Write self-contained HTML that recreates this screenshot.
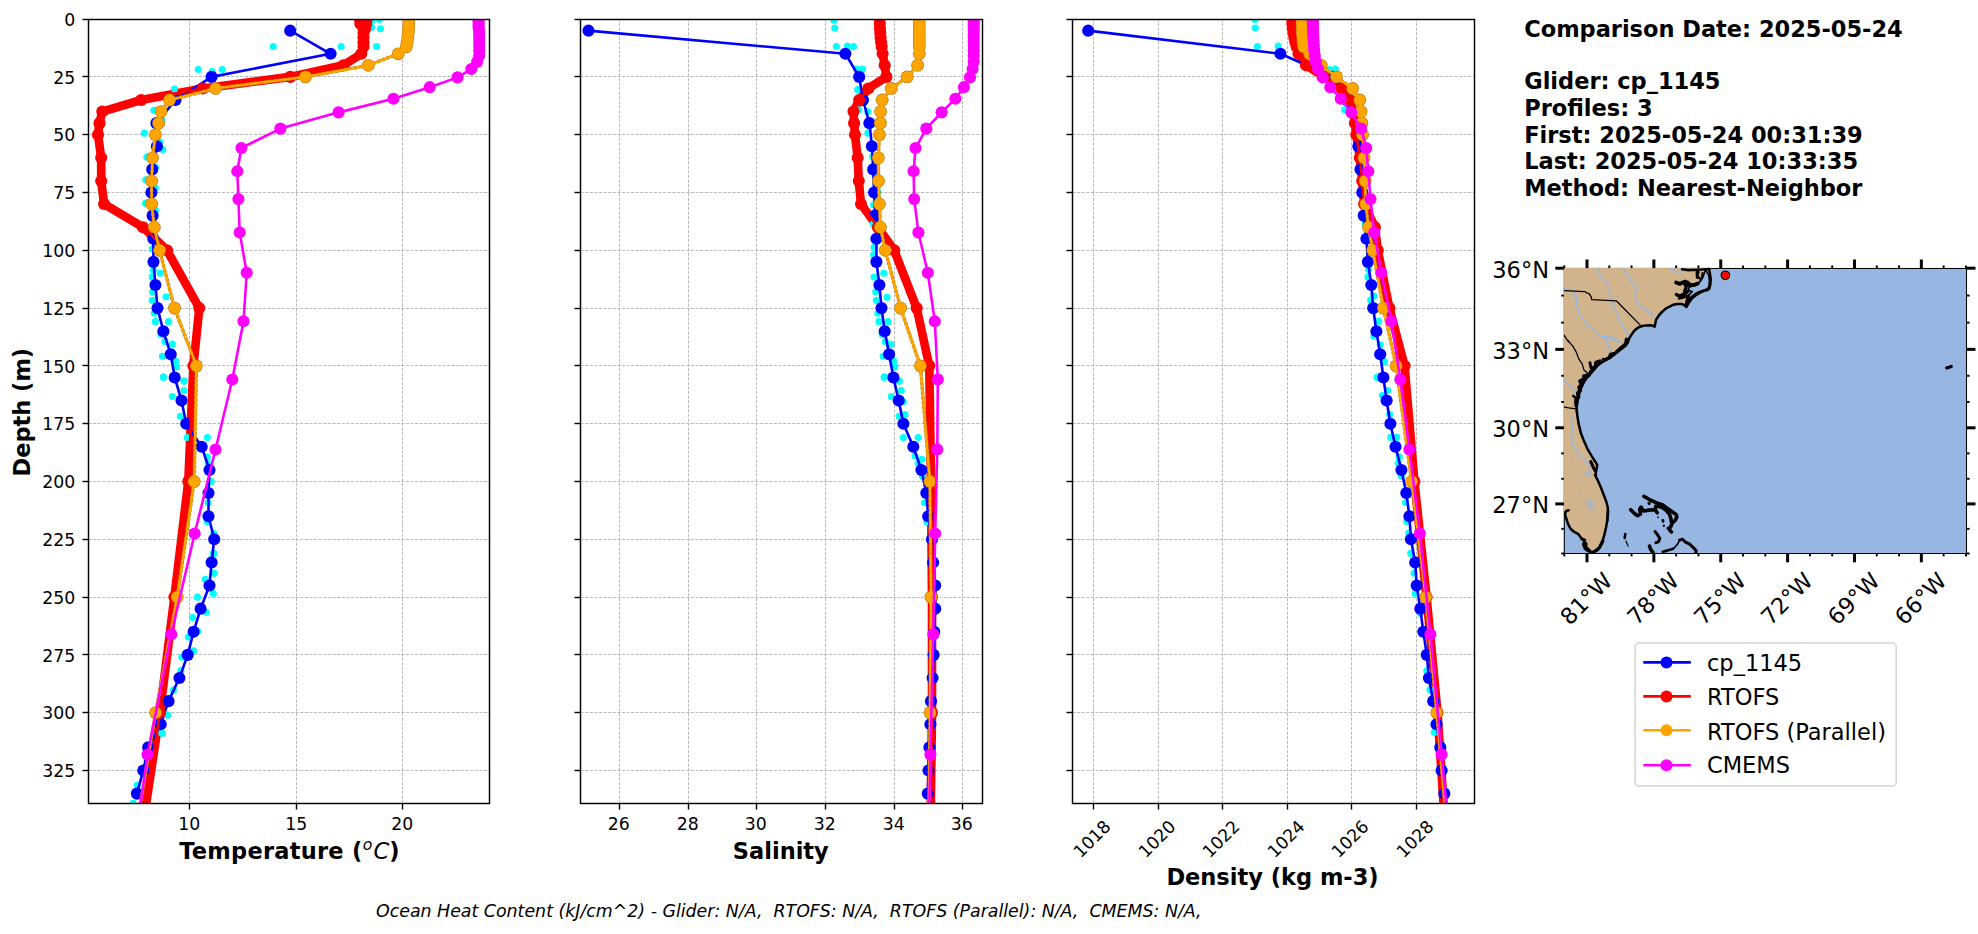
<!DOCTYPE html>
<html lang="en"><head><meta charset="utf-8"><title>Glider vs model profile comparison</title>
<style>html,body{margin:0;padding:0;background:#fff}body{width:1978px;height:934px;overflow:hidden}svg{display:block}text{white-space:pre}</style>
</head><body>
<svg width="1978" height="934" viewBox="0 0 1978 934" font-family="'DejaVu Sans', 'Liberation Sans', sans-serif">
<rect width="1978" height="934" fill="#fff"/>
<defs>
<clipPath id="cp0"><rect x="88.5" y="19.5" width="401" height="784"/></clipPath>
<clipPath id="cp1"><rect x="580.5" y="19.5" width="402" height="784"/></clipPath>
<clipPath id="cp2"><rect x="1072.5" y="19.5" width="402" height="784"/></clipPath>
</defs>
<g stroke="#b0b0b0" stroke-width="0.87" stroke-dasharray="3.2 1.4" fill="none">
<line x1="189.5" y1="803.5" x2="189.5" y2="19.5"/>
<line x1="296.5" y1="803.5" x2="296.5" y2="19.5"/>
<line x1="402.5" y1="803.5" x2="402.5" y2="19.5"/>
<line x1="88.5" y1="76.5" x2="489.5" y2="76.5"/>
<line x1="88.5" y1="134.5" x2="489.5" y2="134.5"/>
<line x1="88.5" y1="192.5" x2="489.5" y2="192.5"/>
<line x1="88.5" y1="250.5" x2="489.5" y2="250.5"/>
<line x1="88.5" y1="308.5" x2="489.5" y2="308.5"/>
<line x1="88.5" y1="365.5" x2="489.5" y2="365.5"/>
<line x1="88.5" y1="423.5" x2="489.5" y2="423.5"/>
<line x1="88.5" y1="481.5" x2="489.5" y2="481.5"/>
<line x1="88.5" y1="539.5" x2="489.5" y2="539.5"/>
<line x1="88.5" y1="597.5" x2="489.5" y2="597.5"/>
<line x1="88.5" y1="654.5" x2="489.5" y2="654.5"/>
<line x1="88.5" y1="712.5" x2="489.5" y2="712.5"/>
<line x1="88.5" y1="770.5" x2="489.5" y2="770.5"/>
</g>
<g clip-path="url(#cp0)">
<polyline points="363.5,19.1 363.5,23.72 363.5,28.35 363.5,32.97 363.5,37.6 363.5,42.22 363.5,46.84 361.3,53.78 343.3,65.34 290.2,76.9 202.7,88.46 141.2,100.02 102.3,111.58 99.5,123.14 98,134.7 101.2,157.82 101.2,180.94 104.1,204.06 143,227.18 167,250.3 199.3,308.1 193.4,365.9 188.3,481.5 174.4,597.1 159.9,712.7 142.4,828.3" fill="none" stroke="#ff0000" stroke-width="8.65" stroke-linejoin="round" />
<g fill="#00ffff" ><circle cx="371.96" cy="20.19" r="3.55"/><circle cx="379.39" cy="19.56" r="3.55"/><circle cx="371.54" cy="27.41" r="3.55"/><circle cx="380.46" cy="28.69" r="3.55"/><circle cx="376.63" cy="46.52" r="3.55"/><circle cx="341.17" cy="46.52" r="3.55"/><circle cx="273.23" cy="46.52" r="3.55"/><circle cx="198.27" cy="69.45" r="3.55"/><circle cx="212.29" cy="71.58" r="3.55"/><circle cx="222.27" cy="69.45" r="3.55"/><circle cx="174.49" cy="88.99" r="3.55"/><circle cx="153.89" cy="110.22" r="3.55"/><circle cx="161.75" cy="119.78" r="3.55"/><circle cx="144.34" cy="133.16" r="3.55"/><circle cx="159.63" cy="142.07" r="3.55"/><circle cx="162.81" cy="149.51" r="3.55"/><circle cx="146.89" cy="157.15" r="3.55"/><circle cx="155.38" cy="167.13" r="3.55"/><circle cx="145.82" cy="179.87" r="3.55"/><circle cx="155.38" cy="187.94" r="3.55"/><circle cx="145.82" cy="203.23" r="3.55"/><circle cx="145.82" cy="203.16" r="3.55"/><circle cx="155.38" cy="210.17" r="3.55"/><circle cx="152.19" cy="249.03" r="3.55"/><circle cx="153.26" cy="270.26" r="3.55"/><circle cx="160.26" cy="273.24" r="3.55"/><circle cx="152.19" cy="277.06" r="3.55"/><circle cx="152.62" cy="291.92" r="3.55"/><circle cx="166" cy="296.81" r="3.55"/><circle cx="152.19" cy="300.42" r="3.55"/><circle cx="154.32" cy="313.16" r="3.55"/><circle cx="155.38" cy="321.65" r="3.55"/><circle cx="168.54" cy="321.65" r="3.55"/><circle cx="160.69" cy="334.39" r="3.55"/><circle cx="164.93" cy="341.4" r="3.55"/><circle cx="172.37" cy="343.94" r="3.55"/><circle cx="162.39" cy="356.26" r="3.55"/><circle cx="175.55" cy="360.93" r="3.55"/><circle cx="176.61" cy="366.88" r="3.55"/><circle cx="163.45" cy="376.86" r="3.55"/><circle cx="184.05" cy="381.1" r="3.55"/><circle cx="163.45" cy="377.43" r="3.55"/><circle cx="184.05" cy="381.04" r="3.55"/><circle cx="184.05" cy="390.6" r="3.55"/><circle cx="172.37" cy="396.54" r="3.55"/><circle cx="180.44" cy="416.29" r="3.55"/><circle cx="187.23" cy="437.52" r="3.55"/><circle cx="207.4" cy="437.52" r="3.55"/><circle cx="207.4" cy="457.06" r="3.55"/><circle cx="208.04" cy="463.43" r="3.55"/><circle cx="211.22" cy="481.48" r="3.55"/><circle cx="208.04" cy="502.71" r="3.55"/><circle cx="207.4" cy="521.82" r="3.55"/><circle cx="213.77" cy="533.5" r="3.55"/><circle cx="213.35" cy="553.25" r="3.55"/><circle cx="214.2" cy="553.61" r="3.55"/><circle cx="214.2" cy="573.36" r="3.55"/><circle cx="205.28" cy="579.3" r="3.55"/><circle cx="213.35" cy="593.53" r="3.55"/><circle cx="197.42" cy="597.14" r="3.55"/><circle cx="206.34" cy="612.21" r="3.55"/><circle cx="192.54" cy="617.52" r="3.55"/><circle cx="197.85" cy="631.32" r="3.55"/><circle cx="188.29" cy="637.06" r="3.55"/><circle cx="193.6" cy="650.86" r="3.55"/><circle cx="181.92" cy="657.23" r="3.55"/><circle cx="180.86" cy="670.61" r="3.55"/><circle cx="173.43" cy="690.14" r="3.55"/><circle cx="167.7" cy="714.99" r="3.55"/><circle cx="161.75" cy="733.03" r="3.55"/><circle cx="167.7" cy="715.29" r="3.55"/><circle cx="162.39" cy="733.55" r="3.55"/><circle cx="137.33" cy="784.93" r="3.55"/><circle cx="133.08" cy="803.41" r="3.55"/></g>
<polyline points="290.2,30.66 330.6,53.78 211.6,76.9 175.5,100.02 156.4,123.14 156.9,146.26 152.2,169.38 151.4,192.5 152.6,215.62 153.3,238.74 153.5,261.86 155.4,284.98 157.5,308.1 163.4,331.22 170.7,354.34 174.7,377.46 181.5,400.58 186.2,423.7 201.7,446.82 209.5,469.94 208.5,493.06 208.5,516.18 214.2,539.3 211.6,562.42 209.5,585.54 200.6,608.66 193.6,631.78 187.7,654.9 179.4,678.02 168.5,701.14 160.7,724.26 148.2,747.38 143.3,770.5 136.9,793.62" fill="none" stroke="#0000ff" stroke-width="2.6" stroke-linejoin="round" />
<g fill="#0000ff" ><circle cx="290.2" cy="30.66" r="6.05"/><circle cx="330.6" cy="53.78" r="6.05"/><circle cx="211.6" cy="76.9" r="6.05"/><circle cx="175.5" cy="100.02" r="6.05"/><circle cx="156.4" cy="123.14" r="6.05"/><circle cx="156.9" cy="146.26" r="6.05"/><circle cx="152.2" cy="169.38" r="6.05"/><circle cx="151.4" cy="192.5" r="6.05"/><circle cx="152.6" cy="215.62" r="6.05"/><circle cx="153.3" cy="238.74" r="6.05"/><circle cx="153.5" cy="261.86" r="6.05"/><circle cx="155.4" cy="284.98" r="6.05"/><circle cx="157.5" cy="308.1" r="6.05"/><circle cx="163.4" cy="331.22" r="6.05"/><circle cx="170.7" cy="354.34" r="6.05"/><circle cx="174.7" cy="377.46" r="6.05"/><circle cx="181.5" cy="400.58" r="6.05"/><circle cx="186.2" cy="423.7" r="6.05"/><circle cx="201.7" cy="446.82" r="6.05"/><circle cx="209.5" cy="469.94" r="6.05"/><circle cx="208.5" cy="493.06" r="6.05"/><circle cx="208.5" cy="516.18" r="6.05"/><circle cx="214.2" cy="539.3" r="6.05"/><circle cx="211.6" cy="562.42" r="6.05"/><circle cx="209.5" cy="585.54" r="6.05"/><circle cx="200.6" cy="608.66" r="6.05"/><circle cx="193.6" cy="631.78" r="6.05"/><circle cx="187.7" cy="654.9" r="6.05"/><circle cx="179.4" cy="678.02" r="6.05"/><circle cx="168.5" cy="701.14" r="6.05"/><circle cx="160.7" cy="724.26" r="6.05"/><circle cx="148.2" cy="747.38" r="6.05"/><circle cx="143.3" cy="770.5" r="6.05"/><circle cx="136.9" cy="793.62" r="6.05"/></g>
<polyline points="363.5,19.1 363.5,23.72 363.5,28.35 363.5,32.97 363.5,37.6 363.5,42.22 363.5,46.84 361.3,53.78 343.3,65.34 290.2,76.9 202.7,88.46 141.2,100.02 102.3,111.58 99.5,123.14 98,134.7 101.2,157.82 101.2,180.94 104.1,204.06 143,227.18 167,250.3 199.3,308.1 193.4,365.9 188.3,481.5 174.4,597.1 159.9,712.7 142.4,828.3" fill="none" stroke="#ff0000" stroke-width="2.6" stroke-linejoin="round" />
<g fill="#ff0000" ><circle cx="363.5" cy="19.1" r="6.05"/><circle cx="363.5" cy="23.72" r="6.05"/><circle cx="363.5" cy="28.35" r="6.05"/><circle cx="363.5" cy="32.97" r="6.05"/><circle cx="363.5" cy="37.6" r="6.05"/><circle cx="363.5" cy="42.22" r="6.05"/><circle cx="363.5" cy="46.84" r="6.05"/><circle cx="361.3" cy="53.78" r="6.05"/><circle cx="343.3" cy="65.34" r="6.05"/><circle cx="290.2" cy="76.9" r="6.05"/><circle cx="202.7" cy="88.46" r="6.05"/><circle cx="141.2" cy="100.02" r="6.05"/><circle cx="102.3" cy="111.58" r="6.05"/><circle cx="99.5" cy="123.14" r="6.05"/><circle cx="98" cy="134.7" r="6.05"/><circle cx="101.2" cy="157.82" r="6.05"/><circle cx="101.2" cy="180.94" r="6.05"/><circle cx="104.1" cy="204.06" r="6.05"/><circle cx="143" cy="227.18" r="6.05"/><circle cx="167" cy="250.3" r="6.05"/><circle cx="199.3" cy="308.1" r="6.05"/><circle cx="193.4" cy="365.9" r="6.05"/><circle cx="188.3" cy="481.5" r="6.05"/><circle cx="174.4" cy="597.1" r="6.05"/><circle cx="159.9" cy="712.7" r="6.05"/><circle cx="142.4" cy="828.3" r="6.05"/><circle cx="366.6" cy="19.1" r="6.05"/><circle cx="366.2" cy="23.72" r="6.05"/><circle cx="365.2" cy="28.35" r="6.05"/><circle cx="359.8" cy="19.1" r="6.05"/><circle cx="360.3" cy="23.72" r="6.05"/></g>
<polyline points="408.9,19.1 408.8,23.72 408.6,28.35 408.3,32.97 407.8,37.6 407.2,42.22 406.3,46.84 398.3,53.78 368.3,65.34 305.5,76.9 215.5,88.46 169.6,100.02 161.1,111.58 158.6,123.14 155.4,134.7 152.6,157.82 151.6,180.94 151.6,204.06 154.3,227.18 159.6,250.3 174.5,308.1 196.4,365.9 194.2,481.5 177.2,597.1 155.6,712.7 136.3,828.3" fill="none" stroke="#bd8010" stroke-width="3.4" stroke-linejoin="round" stroke-dasharray="3.8 1"/>
<g fill="#b87a12" ><circle cx="408.9" cy="19.1" r="6.4"/><circle cx="408.8" cy="23.72" r="6.4"/><circle cx="408.6" cy="28.35" r="6.4"/><circle cx="408.3" cy="32.97" r="6.4"/><circle cx="407.8" cy="37.6" r="6.4"/><circle cx="407.2" cy="42.22" r="6.4"/><circle cx="406.3" cy="46.84" r="6.4"/><circle cx="398.3" cy="53.78" r="6.4"/><circle cx="368.3" cy="65.34" r="6.4"/><circle cx="305.5" cy="76.9" r="6.4"/><circle cx="215.5" cy="88.46" r="6.4"/><circle cx="169.6" cy="100.02" r="6.4"/><circle cx="161.1" cy="111.58" r="6.4"/><circle cx="158.6" cy="123.14" r="6.4"/><circle cx="155.4" cy="134.7" r="6.4"/><circle cx="152.6" cy="157.82" r="6.4"/><circle cx="151.6" cy="180.94" r="6.4"/><circle cx="151.6" cy="204.06" r="6.4"/><circle cx="154.3" cy="227.18" r="6.4"/><circle cx="159.6" cy="250.3" r="6.4"/><circle cx="174.5" cy="308.1" r="6.4"/><circle cx="196.4" cy="365.9" r="6.4"/><circle cx="194.2" cy="481.5" r="6.4"/><circle cx="177.2" cy="597.1" r="6.4"/><circle cx="155.6" cy="712.7" r="6.4"/><circle cx="136.3" cy="828.3" r="6.4"/></g>
<polyline points="408.9,19.1 408.8,23.72 408.6,28.35 408.3,32.97 407.8,37.6 407.2,42.22 406.3,46.84 398.3,53.78 368.3,65.34 305.5,76.9 215.5,88.46 169.6,100.02 161.1,111.58 158.6,123.14 155.4,134.7 152.6,157.82 151.6,180.94 151.6,204.06 154.3,227.18 159.6,250.3 174.5,308.1 196.4,365.9 194.2,481.5 177.2,597.1 155.6,712.7 136.3,828.3" fill="none" stroke="#ffa500" stroke-width="2.3" stroke-linejoin="round" />
<g fill="#ffa500" ><circle cx="408.9" cy="19.1" r="5.75"/><circle cx="408.8" cy="23.72" r="5.75"/><circle cx="408.6" cy="28.35" r="5.75"/><circle cx="408.3" cy="32.97" r="5.75"/><circle cx="407.8" cy="37.6" r="5.75"/><circle cx="407.2" cy="42.22" r="5.75"/><circle cx="406.3" cy="46.84" r="5.75"/><circle cx="398.3" cy="53.78" r="5.75"/><circle cx="368.3" cy="65.34" r="5.75"/><circle cx="305.5" cy="76.9" r="5.75"/><circle cx="215.5" cy="88.46" r="5.75"/><circle cx="169.6" cy="100.02" r="5.75"/><circle cx="161.1" cy="111.58" r="5.75"/><circle cx="158.6" cy="123.14" r="5.75"/><circle cx="155.4" cy="134.7" r="5.75"/><circle cx="152.6" cy="157.82" r="5.75"/><circle cx="151.6" cy="180.94" r="5.75"/><circle cx="151.6" cy="204.06" r="5.75"/><circle cx="154.3" cy="227.18" r="5.75"/><circle cx="159.6" cy="250.3" r="5.75"/><circle cx="174.5" cy="308.1" r="5.75"/><circle cx="196.4" cy="365.9" r="5.75"/><circle cx="194.2" cy="481.5" r="5.75"/><circle cx="177.2" cy="597.1" r="5.75"/><circle cx="155.6" cy="712.7" r="5.75"/><circle cx="136.3" cy="828.3" r="5.75"/></g>
<polyline points="478.6,20.23 478.6,22.66 478.6,25.23 478.6,27.93 479.2,30.84 479.2,33.99 479.2,37.43 479.2,41.23 479.2,45.46 479.2,50.24 479.2,55.65 477.1,61.87 471.3,69.04 457.5,77.39 429.7,87.17 393.4,98.7 338.6,112.37 280.4,128.62 241.4,148.02 237.3,171.25 238.4,199.09 239.7,232.54 246.7,272.8 243.5,321.21 232.3,379.43 215.5,449.43 194.7,533.47 171.3,634.18 147.5,754.62 127.3,898.12" fill="none" stroke="#ff00ff" stroke-width="2.6" stroke-linejoin="round" />
<g fill="#ff00ff" ><circle cx="478.6" cy="20.23" r="6.05"/><circle cx="478.6" cy="22.66" r="6.05"/><circle cx="478.6" cy="25.23" r="6.05"/><circle cx="478.6" cy="27.93" r="6.05"/><circle cx="479.2" cy="30.84" r="6.05"/><circle cx="479.2" cy="33.99" r="6.05"/><circle cx="479.2" cy="37.43" r="6.05"/><circle cx="479.2" cy="41.23" r="6.05"/><circle cx="479.2" cy="45.46" r="6.05"/><circle cx="479.2" cy="50.24" r="6.05"/><circle cx="479.2" cy="55.65" r="6.05"/><circle cx="477.1" cy="61.87" r="6.05"/><circle cx="471.3" cy="69.04" r="6.05"/><circle cx="457.5" cy="77.39" r="6.05"/><circle cx="429.7" cy="87.17" r="6.05"/><circle cx="393.4" cy="98.7" r="6.05"/><circle cx="338.6" cy="112.37" r="6.05"/><circle cx="280.4" cy="128.62" r="6.05"/><circle cx="241.4" cy="148.02" r="6.05"/><circle cx="237.3" cy="171.25" r="6.05"/><circle cx="238.4" cy="199.09" r="6.05"/><circle cx="239.7" cy="232.54" r="6.05"/><circle cx="246.7" cy="272.8" r="6.05"/><circle cx="243.5" cy="321.21" r="6.05"/><circle cx="232.3" cy="379.43" r="6.05"/><circle cx="215.5" cy="449.43" r="6.05"/><circle cx="194.7" cy="533.47" r="6.05"/><circle cx="171.3" cy="634.18" r="6.05"/><circle cx="147.5" cy="754.62" r="6.05"/><circle cx="127.3" cy="898.12" r="6.05"/></g>
</g>
<rect x="88.5" y="19.5" width="401" height="784" fill="none" stroke="#000" stroke-width="1.45"/>
<g stroke="#000" stroke-width="1.4">
<line x1="189.5" y1="803.5" x2="189.5" y2="809.55"/>
<line x1="296.5" y1="803.5" x2="296.5" y2="809.55"/>
<line x1="402.5" y1="803.5" x2="402.5" y2="809.55"/>
<line x1="88.5" y1="19.5" x2="82.45" y2="19.5"/>
<line x1="88.5" y1="76.5" x2="82.45" y2="76.5"/>
<line x1="88.5" y1="134.5" x2="82.45" y2="134.5"/>
<line x1="88.5" y1="192.5" x2="82.45" y2="192.5"/>
<line x1="88.5" y1="250.5" x2="82.45" y2="250.5"/>
<line x1="88.5" y1="308.5" x2="82.45" y2="308.5"/>
<line x1="88.5" y1="365.5" x2="82.45" y2="365.5"/>
<line x1="88.5" y1="423.5" x2="82.45" y2="423.5"/>
<line x1="88.5" y1="481.5" x2="82.45" y2="481.5"/>
<line x1="88.5" y1="539.5" x2="82.45" y2="539.5"/>
<line x1="88.5" y1="597.5" x2="82.45" y2="597.5"/>
<line x1="88.5" y1="654.5" x2="82.45" y2="654.5"/>
<line x1="88.5" y1="712.5" x2="82.45" y2="712.5"/>
<line x1="88.5" y1="770.5" x2="82.45" y2="770.5"/>
</g>
<g font-size="17.3" text-anchor="middle">
<text x="189.3" y="830">10</text>
<text x="296.3" y="830">15</text>
<text x="402.3" y="830">20</text>
</g>
<g font-size="17.3" text-anchor="end">
<text x="75.3" y="25.7">0</text>
<text x="75.3" y="83.5">25</text>
<text x="75.3" y="141.3">50</text>
<text x="75.3" y="199.1">75</text>
<text x="75.3" y="256.9">100</text>
<text x="75.3" y="314.7">125</text>
<text x="75.3" y="372.5">150</text>
<text x="75.3" y="430.3">175</text>
<text x="75.3" y="488.1">200</text>
<text x="75.3" y="545.9">225</text>
<text x="75.3" y="603.7">250</text>
<text x="75.3" y="661.5">275</text>
<text x="75.3" y="719.3">300</text>
<text x="75.3" y="777.1">325</text>
</g>
<g stroke="#b0b0b0" stroke-width="0.87" stroke-dasharray="3.2 1.4" fill="none">
<line x1="619.5" y1="803.5" x2="619.5" y2="19.5"/>
<line x1="688.5" y1="803.5" x2="688.5" y2="19.5"/>
<line x1="756.5" y1="803.5" x2="756.5" y2="19.5"/>
<line x1="825.5" y1="803.5" x2="825.5" y2="19.5"/>
<line x1="894.5" y1="803.5" x2="894.5" y2="19.5"/>
<line x1="962.5" y1="803.5" x2="962.5" y2="19.5"/>
<line x1="580.5" y1="76.5" x2="982.5" y2="76.5"/>
<line x1="580.5" y1="134.5" x2="982.5" y2="134.5"/>
<line x1="580.5" y1="192.5" x2="982.5" y2="192.5"/>
<line x1="580.5" y1="250.5" x2="982.5" y2="250.5"/>
<line x1="580.5" y1="308.5" x2="982.5" y2="308.5"/>
<line x1="580.5" y1="365.5" x2="982.5" y2="365.5"/>
<line x1="580.5" y1="423.5" x2="982.5" y2="423.5"/>
<line x1="580.5" y1="481.5" x2="982.5" y2="481.5"/>
<line x1="580.5" y1="539.5" x2="982.5" y2="539.5"/>
<line x1="580.5" y1="597.5" x2="982.5" y2="597.5"/>
<line x1="580.5" y1="654.5" x2="982.5" y2="654.5"/>
<line x1="580.5" y1="712.5" x2="982.5" y2="712.5"/>
<line x1="580.5" y1="770.5" x2="982.5" y2="770.5"/>
</g>
<g clip-path="url(#cp1)">
<polyline points="879.6,19.1 879.8,23.72 880,28.35 880.3,32.97 880.6,37.6 881.1,42.22 881.7,46.84 882.6,53.78 884.7,65.34 886.4,76.9 868.3,88.46 859.2,100.02 853.5,111.58 854.1,123.14 855,134.7 857.7,157.82 858.8,180.94 861,204.06 877.9,227.18 894.2,250.3 916.7,308.1 929.3,365.9 931,481.5 932,597.1 932,712.7 930.5,828.3" fill="none" stroke="#ff0000" stroke-width="8.65" stroke-linejoin="round" />
<g fill="#00ffff" ><circle cx="833.93" cy="20.19" r="3.55"/><circle cx="834.78" cy="28.05" r="3.55"/><circle cx="836.48" cy="46.52" r="3.55"/><circle cx="847.52" cy="46.1" r="3.55"/><circle cx="853.47" cy="46.52" r="3.55"/><circle cx="856.65" cy="69.03" r="3.55"/><circle cx="862.6" cy="69.03" r="3.55"/><circle cx="857.72" cy="89.63" r="3.55"/><circle cx="858.78" cy="109.8" r="3.55"/><circle cx="867.7" cy="111.5" r="3.55"/><circle cx="867.91" cy="133.16" r="3.55"/><circle cx="872.58" cy="156.51" r="3.55"/><circle cx="877.89" cy="192.18" r="3.55"/><circle cx="873.64" cy="204.86" r="3.55"/><circle cx="873.22" cy="223.97" r="3.55"/><circle cx="874.07" cy="247.33" r="3.55"/><circle cx="873.64" cy="254.76" r="3.55"/><circle cx="883.83" cy="273.24" r="3.55"/><circle cx="874.07" cy="277.06" r="3.55"/><circle cx="875.76" cy="291.92" r="3.55"/><circle cx="887.02" cy="297.23" r="3.55"/><circle cx="876.4" cy="300.42" r="3.55"/><circle cx="877.89" cy="313.16" r="3.55"/><circle cx="878.95" cy="321.65" r="3.55"/><circle cx="888.08" cy="321.65" r="3.55"/><circle cx="882.14" cy="334.39" r="3.55"/><circle cx="885.32" cy="341.4" r="3.55"/><circle cx="891.05" cy="344.37" r="3.55"/><circle cx="883.2" cy="356.26" r="3.55"/><circle cx="893.81" cy="360.93" r="3.55"/><circle cx="894.88" cy="366.88" r="3.55"/><circle cx="884.26" cy="376.86" r="3.55"/><circle cx="899.12" cy="381.1" r="3.55"/><circle cx="884.26" cy="377.43" r="3.55"/><circle cx="899.12" cy="381.04" r="3.55"/><circle cx="901.25" cy="390.6" r="3.55"/><circle cx="891.27" cy="396.54" r="3.55"/><circle cx="903.37" cy="401.85" r="3.55"/><circle cx="905.07" cy="414.59" r="3.55"/><circle cx="899.12" cy="416.29" r="3.55"/><circle cx="903.37" cy="437.52" r="3.55"/><circle cx="918.23" cy="437.52" r="3.55"/><circle cx="915.05" cy="456" r="3.55"/><circle cx="922.05" cy="459.18" r="3.55"/><circle cx="918.23" cy="463.43" r="3.55"/><circle cx="922.48" cy="476.17" r="3.55"/><circle cx="924.6" cy="502.71" r="3.55"/><circle cx="926.73" cy="521.82" r="3.55"/></g>
<polyline points="588.5,30.66 845.4,53.78 859.2,76.9 863,100.02 869.4,123.14 871.9,146.26 873.2,169.38 874.1,192.5 875.1,215.62 876.4,238.74 876.4,261.86 879.4,284.98 881.5,308.1 884.7,331.22 889.1,354.34 893.4,377.46 898.7,400.58 903.4,423.7 913.3,446.82 921.4,469.94 926.3,493.06 928.2,516.18 932,539.3 933.1,562.42 935.2,585.54 935.2,608.66 934.2,631.78 933.6,654.9 932.6,678.02 931,701.14 930.4,724.26 929.4,747.38 928.5,770.5 927.8,793.62" fill="none" stroke="#0000ff" stroke-width="2.6" stroke-linejoin="round" />
<g fill="#0000ff" ><circle cx="588.5" cy="30.66" r="6.05"/><circle cx="845.4" cy="53.78" r="6.05"/><circle cx="859.2" cy="76.9" r="6.05"/><circle cx="863" cy="100.02" r="6.05"/><circle cx="869.4" cy="123.14" r="6.05"/><circle cx="871.9" cy="146.26" r="6.05"/><circle cx="873.2" cy="169.38" r="6.05"/><circle cx="874.1" cy="192.5" r="6.05"/><circle cx="875.1" cy="215.62" r="6.05"/><circle cx="876.4" cy="238.74" r="6.05"/><circle cx="876.4" cy="261.86" r="6.05"/><circle cx="879.4" cy="284.98" r="6.05"/><circle cx="881.5" cy="308.1" r="6.05"/><circle cx="884.7" cy="331.22" r="6.05"/><circle cx="889.1" cy="354.34" r="6.05"/><circle cx="893.4" cy="377.46" r="6.05"/><circle cx="898.7" cy="400.58" r="6.05"/><circle cx="903.4" cy="423.7" r="6.05"/><circle cx="913.3" cy="446.82" r="6.05"/><circle cx="921.4" cy="469.94" r="6.05"/><circle cx="926.3" cy="493.06" r="6.05"/><circle cx="928.2" cy="516.18" r="6.05"/><circle cx="932" cy="539.3" r="6.05"/><circle cx="933.1" cy="562.42" r="6.05"/><circle cx="935.2" cy="585.54" r="6.05"/><circle cx="935.2" cy="608.66" r="6.05"/><circle cx="934.2" cy="631.78" r="6.05"/><circle cx="933.6" cy="654.9" r="6.05"/><circle cx="932.6" cy="678.02" r="6.05"/><circle cx="931" cy="701.14" r="6.05"/><circle cx="930.4" cy="724.26" r="6.05"/><circle cx="929.4" cy="747.38" r="6.05"/><circle cx="928.5" cy="770.5" r="6.05"/><circle cx="927.8" cy="793.62" r="6.05"/></g>
<polyline points="879.6,19.1 879.8,23.72 880,28.35 880.3,32.97 880.6,37.6 881.1,42.22 881.7,46.84 882.6,53.78 884.7,65.34 886.4,76.9 868.3,88.46 859.2,100.02 853.5,111.58 854.1,123.14 855,134.7 857.7,157.82 858.8,180.94 861,204.06 877.9,227.18 894.2,250.3 916.7,308.1 929.3,365.9 931,481.5 932,597.1 932,712.7 930.5,828.3" fill="none" stroke="#ff0000" stroke-width="2.6" stroke-linejoin="round" />
<g fill="#ff0000" ><circle cx="879.6" cy="19.1" r="6.05"/><circle cx="879.8" cy="23.72" r="6.05"/><circle cx="880" cy="28.35" r="6.05"/><circle cx="880.3" cy="32.97" r="6.05"/><circle cx="880.6" cy="37.6" r="6.05"/><circle cx="881.1" cy="42.22" r="6.05"/><circle cx="881.7" cy="46.84" r="6.05"/><circle cx="882.6" cy="53.78" r="6.05"/><circle cx="884.7" cy="65.34" r="6.05"/><circle cx="886.4" cy="76.9" r="6.05"/><circle cx="868.3" cy="88.46" r="6.05"/><circle cx="859.2" cy="100.02" r="6.05"/><circle cx="853.5" cy="111.58" r="6.05"/><circle cx="854.1" cy="123.14" r="6.05"/><circle cx="855" cy="134.7" r="6.05"/><circle cx="857.7" cy="157.82" r="6.05"/><circle cx="858.8" cy="180.94" r="6.05"/><circle cx="861" cy="204.06" r="6.05"/><circle cx="877.9" cy="227.18" r="6.05"/><circle cx="894.2" cy="250.3" r="6.05"/><circle cx="916.7" cy="308.1" r="6.05"/><circle cx="929.3" cy="365.9" r="6.05"/><circle cx="931" cy="481.5" r="6.05"/><circle cx="932" cy="597.1" r="6.05"/><circle cx="932" cy="712.7" r="6.05"/><circle cx="930.5" cy="828.3" r="6.05"/></g>
<polyline points="919.3,19.1 919.3,23.72 919.3,28.35 919.3,32.97 919.3,37.6 919.3,42.22 919.3,46.84 919.3,53.78 917.6,65.34 907.2,76.9 891.3,88.46 882.1,100.02 880.6,111.58 880.4,123.14 879.4,134.7 878.3,157.82 878.5,180.94 879.4,204.06 880.4,227.18 885.3,250.3 900.6,308.1 920.4,365.9 929.9,481.5 931,597.1 930.1,712.7 928.5,828.3" fill="none" stroke="#bd8010" stroke-width="3.4" stroke-linejoin="round" stroke-dasharray="3.8 1"/>
<g fill="#b87a12" ><circle cx="919.3" cy="19.1" r="6.4"/><circle cx="919.3" cy="23.72" r="6.4"/><circle cx="919.3" cy="28.35" r="6.4"/><circle cx="919.3" cy="32.97" r="6.4"/><circle cx="919.3" cy="37.6" r="6.4"/><circle cx="919.3" cy="42.22" r="6.4"/><circle cx="919.3" cy="46.84" r="6.4"/><circle cx="919.3" cy="53.78" r="6.4"/><circle cx="917.6" cy="65.34" r="6.4"/><circle cx="907.2" cy="76.9" r="6.4"/><circle cx="891.3" cy="88.46" r="6.4"/><circle cx="882.1" cy="100.02" r="6.4"/><circle cx="880.6" cy="111.58" r="6.4"/><circle cx="880.4" cy="123.14" r="6.4"/><circle cx="879.4" cy="134.7" r="6.4"/><circle cx="878.3" cy="157.82" r="6.4"/><circle cx="878.5" cy="180.94" r="6.4"/><circle cx="879.4" cy="204.06" r="6.4"/><circle cx="880.4" cy="227.18" r="6.4"/><circle cx="885.3" cy="250.3" r="6.4"/><circle cx="900.6" cy="308.1" r="6.4"/><circle cx="920.4" cy="365.9" r="6.4"/><circle cx="929.9" cy="481.5" r="6.4"/><circle cx="931" cy="597.1" r="6.4"/><circle cx="930.1" cy="712.7" r="6.4"/><circle cx="928.5" cy="828.3" r="6.4"/></g>
<polyline points="919.3,19.1 919.3,23.72 919.3,28.35 919.3,32.97 919.3,37.6 919.3,42.22 919.3,46.84 919.3,53.78 917.6,65.34 907.2,76.9 891.3,88.46 882.1,100.02 880.6,111.58 880.4,123.14 879.4,134.7 878.3,157.82 878.5,180.94 879.4,204.06 880.4,227.18 885.3,250.3 900.6,308.1 920.4,365.9 929.9,481.5 931,597.1 930.1,712.7 928.5,828.3" fill="none" stroke="#ffa500" stroke-width="2.3" stroke-linejoin="round" />
<g fill="#ffa500" ><circle cx="919.3" cy="19.1" r="5.75"/><circle cx="919.3" cy="23.72" r="5.75"/><circle cx="919.3" cy="28.35" r="5.75"/><circle cx="919.3" cy="32.97" r="5.75"/><circle cx="919.3" cy="37.6" r="5.75"/><circle cx="919.3" cy="42.22" r="5.75"/><circle cx="919.3" cy="46.84" r="5.75"/><circle cx="919.3" cy="53.78" r="5.75"/><circle cx="917.6" cy="65.34" r="5.75"/><circle cx="907.2" cy="76.9" r="5.75"/><circle cx="891.3" cy="88.46" r="5.75"/><circle cx="882.1" cy="100.02" r="5.75"/><circle cx="880.6" cy="111.58" r="5.75"/><circle cx="880.4" cy="123.14" r="5.75"/><circle cx="879.4" cy="134.7" r="5.75"/><circle cx="878.3" cy="157.82" r="5.75"/><circle cx="878.5" cy="180.94" r="5.75"/><circle cx="879.4" cy="204.06" r="5.75"/><circle cx="880.4" cy="227.18" r="5.75"/><circle cx="885.3" cy="250.3" r="5.75"/><circle cx="900.6" cy="308.1" r="5.75"/><circle cx="920.4" cy="365.9" r="5.75"/><circle cx="929.9" cy="481.5" r="5.75"/><circle cx="931" cy="597.1" r="5.75"/><circle cx="930.1" cy="712.7" r="5.75"/><circle cx="928.5" cy="828.3" r="5.75"/></g>
<polyline points="973.7,20.23 973.7,22.66 973.7,25.23 973.7,27.93 973.7,30.84 973.7,33.99 973.7,37.43 973.7,41.23 973.7,45.46 973.7,50.24 973.7,55.65 973.7,61.87 972.6,69.04 970,77.39 963.9,87.17 955.4,98.7 941.6,112.37 926.3,128.62 915.5,148.02 913.6,171.25 914.2,199.09 918.4,232.54 927.8,272.8 934.8,321.21 937.8,379.43 937.3,449.43 935.2,533.47 933.3,634.18 930.4,754.62 927.5,898.12" fill="none" stroke="#ff00ff" stroke-width="2.6" stroke-linejoin="round" />
<g fill="#ff00ff" ><circle cx="973.7" cy="20.23" r="6.05"/><circle cx="973.7" cy="22.66" r="6.05"/><circle cx="973.7" cy="25.23" r="6.05"/><circle cx="973.7" cy="27.93" r="6.05"/><circle cx="973.7" cy="30.84" r="6.05"/><circle cx="973.7" cy="33.99" r="6.05"/><circle cx="973.7" cy="37.43" r="6.05"/><circle cx="973.7" cy="41.23" r="6.05"/><circle cx="973.7" cy="45.46" r="6.05"/><circle cx="973.7" cy="50.24" r="6.05"/><circle cx="973.7" cy="55.65" r="6.05"/><circle cx="973.7" cy="61.87" r="6.05"/><circle cx="972.6" cy="69.04" r="6.05"/><circle cx="970" cy="77.39" r="6.05"/><circle cx="963.9" cy="87.17" r="6.05"/><circle cx="955.4" cy="98.7" r="6.05"/><circle cx="941.6" cy="112.37" r="6.05"/><circle cx="926.3" cy="128.62" r="6.05"/><circle cx="915.5" cy="148.02" r="6.05"/><circle cx="913.6" cy="171.25" r="6.05"/><circle cx="914.2" cy="199.09" r="6.05"/><circle cx="918.4" cy="232.54" r="6.05"/><circle cx="927.8" cy="272.8" r="6.05"/><circle cx="934.8" cy="321.21" r="6.05"/><circle cx="937.8" cy="379.43" r="6.05"/><circle cx="937.3" cy="449.43" r="6.05"/><circle cx="935.2" cy="533.47" r="6.05"/><circle cx="933.3" cy="634.18" r="6.05"/><circle cx="930.4" cy="754.62" r="6.05"/><circle cx="927.5" cy="898.12" r="6.05"/></g>
</g>
<rect x="580.5" y="19.5" width="402" height="784" fill="none" stroke="#000" stroke-width="1.45"/>
<g stroke="#000" stroke-width="1.4">
<line x1="619.5" y1="803.5" x2="619.5" y2="809.55"/>
<line x1="688.5" y1="803.5" x2="688.5" y2="809.55"/>
<line x1="756.5" y1="803.5" x2="756.5" y2="809.55"/>
<line x1="825.5" y1="803.5" x2="825.5" y2="809.55"/>
<line x1="894.5" y1="803.5" x2="894.5" y2="809.55"/>
<line x1="962.5" y1="803.5" x2="962.5" y2="809.55"/>
<line x1="580.5" y1="19.5" x2="574.45" y2="19.5"/>
<line x1="580.5" y1="76.5" x2="574.45" y2="76.5"/>
<line x1="580.5" y1="134.5" x2="574.45" y2="134.5"/>
<line x1="580.5" y1="192.5" x2="574.45" y2="192.5"/>
<line x1="580.5" y1="250.5" x2="574.45" y2="250.5"/>
<line x1="580.5" y1="308.5" x2="574.45" y2="308.5"/>
<line x1="580.5" y1="365.5" x2="574.45" y2="365.5"/>
<line x1="580.5" y1="423.5" x2="574.45" y2="423.5"/>
<line x1="580.5" y1="481.5" x2="574.45" y2="481.5"/>
<line x1="580.5" y1="539.5" x2="574.45" y2="539.5"/>
<line x1="580.5" y1="597.5" x2="574.45" y2="597.5"/>
<line x1="580.5" y1="654.5" x2="574.45" y2="654.5"/>
<line x1="580.5" y1="712.5" x2="574.45" y2="712.5"/>
<line x1="580.5" y1="770.5" x2="574.45" y2="770.5"/>
</g>
<g font-size="17.3" text-anchor="middle">
<text x="618.7" y="830">26</text>
<text x="687.7" y="830">28</text>
<text x="755.7" y="830">30</text>
<text x="824.7" y="830">32</text>
<text x="893.7" y="830">34</text>
<text x="961.7" y="830">36</text>
</g>
<g stroke="#b0b0b0" stroke-width="0.87" stroke-dasharray="3.2 1.4" fill="none">
<line x1="1093.5" y1="803.5" x2="1093.5" y2="19.5"/>
<line x1="1158.5" y1="803.5" x2="1158.5" y2="19.5"/>
<line x1="1222.5" y1="803.5" x2="1222.5" y2="19.5"/>
<line x1="1287.5" y1="803.5" x2="1287.5" y2="19.5"/>
<line x1="1351.5" y1="803.5" x2="1351.5" y2="19.5"/>
<line x1="1416.5" y1="803.5" x2="1416.5" y2="19.5"/>
<line x1="1072.5" y1="76.5" x2="1474.5" y2="76.5"/>
<line x1="1072.5" y1="134.5" x2="1474.5" y2="134.5"/>
<line x1="1072.5" y1="192.5" x2="1474.5" y2="192.5"/>
<line x1="1072.5" y1="250.5" x2="1474.5" y2="250.5"/>
<line x1="1072.5" y1="308.5" x2="1474.5" y2="308.5"/>
<line x1="1072.5" y1="365.5" x2="1474.5" y2="365.5"/>
<line x1="1072.5" y1="423.5" x2="1474.5" y2="423.5"/>
<line x1="1072.5" y1="481.5" x2="1474.5" y2="481.5"/>
<line x1="1072.5" y1="539.5" x2="1474.5" y2="539.5"/>
<line x1="1072.5" y1="597.5" x2="1474.5" y2="597.5"/>
<line x1="1072.5" y1="654.5" x2="1474.5" y2="654.5"/>
<line x1="1072.5" y1="712.5" x2="1474.5" y2="712.5"/>
<line x1="1072.5" y1="770.5" x2="1474.5" y2="770.5"/>
</g>
<g clip-path="url(#cp2)">
<polyline points="1292.1,19.1 1292.3,23.72 1292.7,28.35 1293.4,32.97 1294.3,37.6 1295.4,42.22 1296.6,46.84 1298.5,53.78 1306,65.34 1324.4,76.9 1341.5,88.46 1350,100.02 1353,111.58 1355,123.14 1356.3,134.7 1359.8,157.82 1362.2,180.94 1364.1,204.06 1374.9,227.18 1377.8,250.3 1389.4,308.1 1404.6,365.9 1414.4,481.5 1426.6,597.1 1437.5,712.7 1445.2,828.3" fill="none" stroke="#ff0000" stroke-width="8.65" stroke-linejoin="round" />
<g fill="#00ffff" ><circle cx="1254.93" cy="19.56" r="3.55"/><circle cx="1255.35" cy="28.05" r="3.55"/><circle cx="1257.47" cy="46.52" r="3.55"/><circle cx="1278.28" cy="46.1" r="3.55"/><circle cx="1329.67" cy="69.45" r="3.55"/><circle cx="1335.4" cy="69.03" r="3.55"/><circle cx="1344.53" cy="109.8" r="3.55"/><circle cx="1365.36" cy="223.91" r="3.55"/><circle cx="1368.54" cy="269.47" r="3.55"/><circle cx="1367.9" cy="276.88" r="3.55"/><circle cx="1373.84" cy="295.95" r="3.55"/><circle cx="1370.66" cy="300.19" r="3.55"/><circle cx="1378.5" cy="321.38" r="3.55"/><circle cx="1373.84" cy="336.22" r="3.55"/><circle cx="1380.19" cy="344.69" r="3.55"/><circle cx="1384.43" cy="361.65" r="3.55"/><circle cx="1379.13" cy="376.48" r="3.55"/><circle cx="1377.01" cy="377.42" r="3.55"/><circle cx="1387.61" cy="390.56" r="3.55"/><circle cx="1382.31" cy="395.43" r="3.55"/><circle cx="1389.73" cy="414.5" r="3.55"/><circle cx="1390.79" cy="437.39" r="3.55"/><circle cx="1396.72" cy="437.39" r="3.55"/><circle cx="1399.26" cy="456.88" r="3.55"/><circle cx="1398.21" cy="463.24" r="3.55"/><circle cx="1401.38" cy="475.95" r="3.55"/><circle cx="1405.62" cy="502.44" r="3.55"/><circle cx="1406.68" cy="521.52" r="3.55"/><circle cx="1408.8" cy="533.17" r="3.55"/><circle cx="1410.92" cy="553.3" r="3.55"/><circle cx="1410.92" cy="553.6" r="3.55"/><circle cx="1414.1" cy="573.31" r="3.55"/><circle cx="1415.16" cy="593.44" r="3.55"/><circle cx="1420.46" cy="613.57" r="3.55"/><circle cx="1426.81" cy="670.79" r="3.55"/><circle cx="1429.99" cy="689.86" r="3.55"/><circle cx="1434.23" cy="732.24" r="3.55"/></g>
<polyline points="1088.2,30.66 1280.4,53.78 1333,76.9 1347,100.02 1355.5,123.14 1358.4,146.26 1360.5,169.38 1362.3,192.5 1363.7,215.62 1366.4,238.74 1367.9,261.86 1371.3,284.98 1373.2,308.1 1376.4,331.22 1380.2,354.34 1383.4,377.46 1386.6,400.58 1390.4,423.7 1395.5,446.82 1401.4,469.94 1406.3,493.06 1409.4,516.18 1410.9,539.3 1415.2,562.42 1416.7,585.54 1420.3,608.66 1423.3,631.78 1426.8,654.9 1428.9,678.02 1433.2,701.14 1436.5,724.26 1440.3,747.38 1441.6,770.5 1444.3,793.62" fill="none" stroke="#0000ff" stroke-width="2.6" stroke-linejoin="round" />
<g fill="#0000ff" ><circle cx="1088.2" cy="30.66" r="6.05"/><circle cx="1280.4" cy="53.78" r="6.05"/><circle cx="1333" cy="76.9" r="6.05"/><circle cx="1347" cy="100.02" r="6.05"/><circle cx="1355.5" cy="123.14" r="6.05"/><circle cx="1358.4" cy="146.26" r="6.05"/><circle cx="1360.5" cy="169.38" r="6.05"/><circle cx="1362.3" cy="192.5" r="6.05"/><circle cx="1363.7" cy="215.62" r="6.05"/><circle cx="1366.4" cy="238.74" r="6.05"/><circle cx="1367.9" cy="261.86" r="6.05"/><circle cx="1371.3" cy="284.98" r="6.05"/><circle cx="1373.2" cy="308.1" r="6.05"/><circle cx="1376.4" cy="331.22" r="6.05"/><circle cx="1380.2" cy="354.34" r="6.05"/><circle cx="1383.4" cy="377.46" r="6.05"/><circle cx="1386.6" cy="400.58" r="6.05"/><circle cx="1390.4" cy="423.7" r="6.05"/><circle cx="1395.5" cy="446.82" r="6.05"/><circle cx="1401.4" cy="469.94" r="6.05"/><circle cx="1406.3" cy="493.06" r="6.05"/><circle cx="1409.4" cy="516.18" r="6.05"/><circle cx="1410.9" cy="539.3" r="6.05"/><circle cx="1415.2" cy="562.42" r="6.05"/><circle cx="1416.7" cy="585.54" r="6.05"/><circle cx="1420.3" cy="608.66" r="6.05"/><circle cx="1423.3" cy="631.78" r="6.05"/><circle cx="1426.8" cy="654.9" r="6.05"/><circle cx="1428.9" cy="678.02" r="6.05"/><circle cx="1433.2" cy="701.14" r="6.05"/><circle cx="1436.5" cy="724.26" r="6.05"/><circle cx="1440.3" cy="747.38" r="6.05"/><circle cx="1441.6" cy="770.5" r="6.05"/><circle cx="1444.3" cy="793.62" r="6.05"/></g>
<polyline points="1292.1,19.1 1292.3,23.72 1292.7,28.35 1293.4,32.97 1294.3,37.6 1295.4,42.22 1296.6,46.84 1298.5,53.78 1306,65.34 1324.4,76.9 1341.5,88.46 1350,100.02 1353,111.58 1355,123.14 1356.3,134.7 1359.8,157.82 1362.2,180.94 1364.1,204.06 1374.9,227.18 1377.8,250.3 1389.4,308.1 1404.6,365.9 1414.4,481.5 1426.6,597.1 1437.5,712.7 1445.2,828.3" fill="none" stroke="#ff0000" stroke-width="2.6" stroke-linejoin="round" />
<g fill="#ff0000" ><circle cx="1292.1" cy="19.1" r="6.05"/><circle cx="1292.3" cy="23.72" r="6.05"/><circle cx="1292.7" cy="28.35" r="6.05"/><circle cx="1293.4" cy="32.97" r="6.05"/><circle cx="1294.3" cy="37.6" r="6.05"/><circle cx="1295.4" cy="42.22" r="6.05"/><circle cx="1296.6" cy="46.84" r="6.05"/><circle cx="1298.5" cy="53.78" r="6.05"/><circle cx="1306" cy="65.34" r="6.05"/><circle cx="1324.4" cy="76.9" r="6.05"/><circle cx="1341.5" cy="88.46" r="6.05"/><circle cx="1350" cy="100.02" r="6.05"/><circle cx="1353" cy="111.58" r="6.05"/><circle cx="1355" cy="123.14" r="6.05"/><circle cx="1356.3" cy="134.7" r="6.05"/><circle cx="1359.8" cy="157.82" r="6.05"/><circle cx="1362.2" cy="180.94" r="6.05"/><circle cx="1364.1" cy="204.06" r="6.05"/><circle cx="1374.9" cy="227.18" r="6.05"/><circle cx="1377.8" cy="250.3" r="6.05"/><circle cx="1389.4" cy="308.1" r="6.05"/><circle cx="1404.6" cy="365.9" r="6.05"/><circle cx="1414.4" cy="481.5" r="6.05"/><circle cx="1426.6" cy="597.1" r="6.05"/><circle cx="1437.5" cy="712.7" r="6.05"/><circle cx="1445.2" cy="828.3" r="6.05"/></g>
<polyline points="1301.9,19.1 1302,23.72 1302.1,28.35 1302.3,32.97 1302.6,37.6 1303,42.22 1303.6,46.84 1309.5,53.78 1321.2,65.34 1336.5,76.9 1352.6,88.46 1359.8,100.02 1361.1,111.58 1361.9,123.14 1362.6,134.7 1364.1,157.82 1365.1,180.94 1365.8,204.06 1368.5,227.18 1372.8,250.3 1383.4,308.1 1396.1,365.9 1411.6,481.5 1425.8,597.1 1436.7,712.7 1447,828.3" fill="none" stroke="#bd8010" stroke-width="3.4" stroke-linejoin="round" stroke-dasharray="3.8 1"/>
<g fill="#b87a12" ><circle cx="1301.9" cy="19.1" r="6.4"/><circle cx="1302" cy="23.72" r="6.4"/><circle cx="1302.1" cy="28.35" r="6.4"/><circle cx="1302.3" cy="32.97" r="6.4"/><circle cx="1302.6" cy="37.6" r="6.4"/><circle cx="1303" cy="42.22" r="6.4"/><circle cx="1303.6" cy="46.84" r="6.4"/><circle cx="1309.5" cy="53.78" r="6.4"/><circle cx="1321.2" cy="65.34" r="6.4"/><circle cx="1336.5" cy="76.9" r="6.4"/><circle cx="1352.6" cy="88.46" r="6.4"/><circle cx="1359.8" cy="100.02" r="6.4"/><circle cx="1361.1" cy="111.58" r="6.4"/><circle cx="1361.9" cy="123.14" r="6.4"/><circle cx="1362.6" cy="134.7" r="6.4"/><circle cx="1364.1" cy="157.82" r="6.4"/><circle cx="1365.1" cy="180.94" r="6.4"/><circle cx="1365.8" cy="204.06" r="6.4"/><circle cx="1368.5" cy="227.18" r="6.4"/><circle cx="1372.8" cy="250.3" r="6.4"/><circle cx="1383.4" cy="308.1" r="6.4"/><circle cx="1396.1" cy="365.9" r="6.4"/><circle cx="1411.6" cy="481.5" r="6.4"/><circle cx="1425.8" cy="597.1" r="6.4"/><circle cx="1436.7" cy="712.7" r="6.4"/><circle cx="1447" cy="828.3" r="6.4"/></g>
<polyline points="1301.9,19.1 1302,23.72 1302.1,28.35 1302.3,32.97 1302.6,37.6 1303,42.22 1303.6,46.84 1309.5,53.78 1321.2,65.34 1336.5,76.9 1352.6,88.46 1359.8,100.02 1361.1,111.58 1361.9,123.14 1362.6,134.7 1364.1,157.82 1365.1,180.94 1365.8,204.06 1368.5,227.18 1372.8,250.3 1383.4,308.1 1396.1,365.9 1411.6,481.5 1425.8,597.1 1436.7,712.7 1447,828.3" fill="none" stroke="#ffa500" stroke-width="2.3" stroke-linejoin="round" />
<g fill="#ffa500" ><circle cx="1301.9" cy="19.1" r="5.75"/><circle cx="1302" cy="23.72" r="5.75"/><circle cx="1302.1" cy="28.35" r="5.75"/><circle cx="1302.3" cy="32.97" r="5.75"/><circle cx="1302.6" cy="37.6" r="5.75"/><circle cx="1303" cy="42.22" r="5.75"/><circle cx="1303.6" cy="46.84" r="5.75"/><circle cx="1309.5" cy="53.78" r="5.75"/><circle cx="1321.2" cy="65.34" r="5.75"/><circle cx="1336.5" cy="76.9" r="5.75"/><circle cx="1352.6" cy="88.46" r="5.75"/><circle cx="1359.8" cy="100.02" r="5.75"/><circle cx="1361.1" cy="111.58" r="5.75"/><circle cx="1361.9" cy="123.14" r="5.75"/><circle cx="1362.6" cy="134.7" r="5.75"/><circle cx="1364.1" cy="157.82" r="5.75"/><circle cx="1365.1" cy="180.94" r="5.75"/><circle cx="1365.8" cy="204.06" r="5.75"/><circle cx="1368.5" cy="227.18" r="5.75"/><circle cx="1372.8" cy="250.3" r="5.75"/><circle cx="1383.4" cy="308.1" r="5.75"/><circle cx="1396.1" cy="365.9" r="5.75"/><circle cx="1411.6" cy="481.5" r="5.75"/><circle cx="1425.8" cy="597.1" r="5.75"/><circle cx="1436.7" cy="712.7" r="5.75"/><circle cx="1447" cy="828.3" r="5.75"/></g>
<polyline points="1312.8,20.23 1312.8,22.66 1312.9,25.23 1313,27.93 1313.1,30.84 1313.2,33.99 1313.4,37.43 1313.6,41.23 1313.9,45.46 1314.2,50.24 1314.8,55.65 1315.9,61.87 1318,69.04 1322.7,77.39 1330.3,87.17 1340.7,98.7 1351.3,112.37 1361.1,128.62 1366.2,148.02 1368.3,171.25 1370.5,199.09 1374.3,232.54 1381.3,272.8 1391.4,321.21 1400.3,379.43 1409.4,449.43 1419.8,533.47 1430.4,634.18 1441.6,754.62 1455,898.12" fill="none" stroke="#ff00ff" stroke-width="2.6" stroke-linejoin="round" />
<g fill="#ff00ff" ><circle cx="1312.8" cy="20.23" r="6.05"/><circle cx="1312.8" cy="22.66" r="6.05"/><circle cx="1312.9" cy="25.23" r="6.05"/><circle cx="1313" cy="27.93" r="6.05"/><circle cx="1313.1" cy="30.84" r="6.05"/><circle cx="1313.2" cy="33.99" r="6.05"/><circle cx="1313.4" cy="37.43" r="6.05"/><circle cx="1313.6" cy="41.23" r="6.05"/><circle cx="1313.9" cy="45.46" r="6.05"/><circle cx="1314.2" cy="50.24" r="6.05"/><circle cx="1314.8" cy="55.65" r="6.05"/><circle cx="1315.9" cy="61.87" r="6.05"/><circle cx="1318" cy="69.04" r="6.05"/><circle cx="1322.7" cy="77.39" r="6.05"/><circle cx="1330.3" cy="87.17" r="6.05"/><circle cx="1340.7" cy="98.7" r="6.05"/><circle cx="1351.3" cy="112.37" r="6.05"/><circle cx="1361.1" cy="128.62" r="6.05"/><circle cx="1366.2" cy="148.02" r="6.05"/><circle cx="1368.3" cy="171.25" r="6.05"/><circle cx="1370.5" cy="199.09" r="6.05"/><circle cx="1374.3" cy="232.54" r="6.05"/><circle cx="1381.3" cy="272.8" r="6.05"/><circle cx="1391.4" cy="321.21" r="6.05"/><circle cx="1400.3" cy="379.43" r="6.05"/><circle cx="1409.4" cy="449.43" r="6.05"/><circle cx="1419.8" cy="533.47" r="6.05"/><circle cx="1430.4" cy="634.18" r="6.05"/><circle cx="1441.6" cy="754.62" r="6.05"/><circle cx="1455" cy="898.12" r="6.05"/></g>
</g>
<rect x="1072.5" y="19.5" width="402" height="784" fill="none" stroke="#000" stroke-width="1.45"/>
<g stroke="#000" stroke-width="1.4">
<line x1="1093.5" y1="803.5" x2="1093.5" y2="809.55"/>
<line x1="1158.5" y1="803.5" x2="1158.5" y2="809.55"/>
<line x1="1222.5" y1="803.5" x2="1222.5" y2="809.55"/>
<line x1="1287.5" y1="803.5" x2="1287.5" y2="809.55"/>
<line x1="1351.5" y1="803.5" x2="1351.5" y2="809.55"/>
<line x1="1416.5" y1="803.5" x2="1416.5" y2="809.55"/>
<line x1="1072.5" y1="19.5" x2="1066.45" y2="19.5"/>
<line x1="1072.5" y1="76.5" x2="1066.45" y2="76.5"/>
<line x1="1072.5" y1="134.5" x2="1066.45" y2="134.5"/>
<line x1="1072.5" y1="192.5" x2="1066.45" y2="192.5"/>
<line x1="1072.5" y1="250.5" x2="1066.45" y2="250.5"/>
<line x1="1072.5" y1="308.5" x2="1066.45" y2="308.5"/>
<line x1="1072.5" y1="365.5" x2="1066.45" y2="365.5"/>
<line x1="1072.5" y1="423.5" x2="1066.45" y2="423.5"/>
<line x1="1072.5" y1="481.5" x2="1066.45" y2="481.5"/>
<line x1="1072.5" y1="539.5" x2="1066.45" y2="539.5"/>
<line x1="1072.5" y1="597.5" x2="1066.45" y2="597.5"/>
<line x1="1072.5" y1="654.5" x2="1066.45" y2="654.5"/>
<line x1="1072.5" y1="712.5" x2="1066.45" y2="712.5"/>
<line x1="1072.5" y1="770.5" x2="1066.45" y2="770.5"/>
</g>
<g font-size="17.3" text-anchor="middle">
<text transform="translate(1092,839) rotate(-45)" x="0" y="6">1018</text>
<text transform="translate(1157,839) rotate(-45)" x="0" y="6">1020</text>
<text transform="translate(1221,839) rotate(-45)" x="0" y="6">1022</text>
<text transform="translate(1286,839) rotate(-45)" x="0" y="6">1024</text>
<text transform="translate(1350,839) rotate(-45)" x="0" y="6">1026</text>
<text transform="translate(1415,839) rotate(-45)" x="0" y="6">1028</text>
</g>
<text transform="translate(30.2,412.2) rotate(-90)" font-size="22.5" font-weight="bold" text-anchor="middle">Depth (m)</text>
<text x="179.2" y="859.3" font-size="22.5"><tspan font-weight="bold" textLength="183.02">Temperature (</tspan><tspan font-style="italic" font-size="15.75" dy="-9.2" dx="0.3">o</tspan><tspan font-style="italic" dy="9.2" dx="1">C</tspan><tspan font-weight="bold" dx="0.2">)</tspan></text>
<text x="780.8" y="859.2" font-size="22.5" text-anchor="middle" font-weight="bold">Salinity</text>
<text x="1272.5" y="884.7" font-size="22.5" text-anchor="middle" font-weight="bold">Density (kg m-3)</text>
<text x="1524.2" y="36.5" font-size="22.5" text-anchor="start" textLength="378.47" lengthAdjust="spacing" font-weight="bold">Comparison Date: 2025-05-24</text>
<text x="1524.2" y="89.4" font-size="22.5" text-anchor="start" textLength="196.31" lengthAdjust="spacing" font-weight="bold">Glider: cp_1145</text>
<text x="1524.2" y="115.9" font-size="22.5" text-anchor="start" textLength="128.45" lengthAdjust="spacing" font-weight="bold">Profiles: 3</text>
<text x="1524.2" y="142.6" font-size="22.5" text-anchor="start" textLength="338.5" lengthAdjust="spacing" font-weight="bold">First: 2025-05-24 00:31:39</text>
<text x="1524.2" y="169.2" font-size="22.5" text-anchor="start" textLength="333.85" lengthAdjust="spacing" font-weight="bold">Last: 2025-05-24 10:33:35</text>
<text x="1524.2" y="195.9" font-size="22.5" text-anchor="start" textLength="338.2" lengthAdjust="spacing" font-weight="bold">Method: Nearest-Neighbor</text>
<text x="376.0" y="917.4" font-size="17.39" font-style="italic" xml:space="preserve">Ocean Heat Content (kJ/cm^2) - Glider: N/A,  RTOFS: N/A,  RTOFS (Parallel): N/A,  CMEMS: N/A,</text>
<defs><clipPath id="mapclip"><rect x="1563.9" y="267.85" width="402.4" height="285.05"/></clipPath></defs>
<rect x="1563.9" y="267.9" width="402.6" height="285.5" fill="#97b6e1"/>
<path d="M1564.3 553.4 L1564.3 268.4 L1966.5 268.4 L1966.5 553.4 Z" fill="none" stroke="#000" stroke-width="1.05"/>
<g clip-path="url(#mapclip)">
<path d="M1561.9 266.1 L1708.61 266.1 L1708.61 267.82 L1709.89 273.13 L1710.75 279.13 L1710.32 284.27 L1709.46 288.55 L1707.49 290.09 L1704.75 290.69 L1700.47 292.41 L1696.19 294.98 L1692.33 297.97 L1689.76 301.4 L1687.62 304.83 L1686.34 306.97 L1684.63 305.25 L1681.63 303.97 L1677.34 303.97 L1673.06 304.83 L1669.64 306.54 L1666.21 308.25 L1662.78 311.25 L1659.79 314.25 L1657.64 317.25 L1655.93 320.24 L1655.25 323.67 L1654.65 326.67 L1652.93 325.81 L1649.94 325.21 L1645.65 325.38 L1641.37 326.24 L1637.52 327.95 L1634.52 330.52 L1631.95 333.95 L1629.81 337.37 L1628.09 340.37 L1628.95 339.28 L1627.67 342.71 L1625.52 345.71 L1621.67 348.7 L1617.39 352.13 L1613.1 355.56 L1609.68 358.13 L1605.4 360.27 L1601.11 362.84 L1597.69 365.41 L1595.12 368.4 L1592.12 371.83 L1589.55 374.83 L1586.55 378.25 L1583.98 382.11 L1581.84 386.39 L1580.13 390.67 L1578.67 394.96 L1577.56 399.24 L1576.87 403.52 L1576.53 407.81 L1576.7 412.09 L1576.7 408.57 L1577.39 416.27 L1578.84 424.84 L1580.99 433.4 L1583.98 441.11 L1587.41 448.82 L1591.69 456.1 L1595.55 462.1 L1597.26 465.1 L1596.66 468.52 L1595.8 472.81 L1595.97 475.37 L1594.95 475 L1597.69 480.14 L1600.69 486.99 L1603.68 494.7 L1606.25 501.55 L1607.79 507.55 L1607.97 513.54 L1607.28 520.4 L1606.08 527.25 L1604.54 534.1 L1602.83 540.1 L1600.26 546.09 L1597.26 550.37 L1592.98 552.09 L1588.27 551.23 L1584.84 548.66 L1583.13 544.38 L1584.41 540.52 L1581.41 538.38 L1578.42 534.1 L1573.7 531.53 L1570.71 528.96 L1568.57 525.11 L1566.85 520.4 L1565.57 516.11 L1564.97 513.12 L1566.42 510.97 L1568.57 510.29 L1561.9 511.4 Z" fill="#d2b48c"/>
<g fill="none" stroke="#97b6e1" stroke-width="1.55" stroke-linejoin="round" stroke-linecap="round">
<path d="M1599.4 267.82 L1598.54 273.13 L1602.83 278.27 L1607.54 284.27 L1607.97 291.12 L1611.39 293.69 L1611.82 299.69 L1613.1 306.54 L1617.39 313.39 L1619.96 321.96 L1625.1 328.81 L1628.52 334.81 L1627.67 339.09"/>
<path d="M1623.38 267.82 L1627.67 273.99 L1631.09 280.84 L1637.09 286.84 L1634.95 292.84 L1635.8 300.54 L1641.37 306.54 L1647.37 311.68 L1652.51 314.25 L1654.22 317.67"/>
<path d="M1563.85 288.55 L1572.85 291.12 L1576.27 296.26 L1576.7 304.83 L1578.84 313.39 L1583.98 320.24 L1587.41 326.24 L1594.26 329.67 L1598.54 335.66 L1604.54 337.37 L1607.97 342"/>
<path d="M1604.54 336.52 L1611.39 337.37 L1619.96 342"/>
<path d="M1670.49 268.42 L1675.63 271.42 L1679.91 272.28 L1681.63 270.57"/>
<path d="M1598.54 335 L1604.54 337.57 L1607.97 343.57 L1610.54 352.13 L1610.54 355.56"/>
<path d="M1606.25 336.71 L1613.1 339.28 L1623.38 344.42"/>
<path d="M1563.85 380.4 L1570.28 386.39 L1575.42 392.39"/>
<path d="M1577.56 416.7 L1571.99 417.99 L1571.13 421.41 L1572.85 428.27 L1573.7 433.4 L1571.13 437.69 L1571.99 443.68 L1577.13 450.54 L1578.84 455.67 L1583.98 458.24 L1587.41 463.38 L1589.55 468.52 L1590.41 474.52 L1589.12 476.23 L1584.84 472.81"/>
</g>
<path d="M1588.27 499.84 L1592.12 498.55 L1594.69 502.41 L1594.26 507.55 L1592.12 510.97 L1588.27 509.26 L1584.84 504.55 L1586.55 501.55 Z" fill="#b4b4b4"/>
<path d="M1579.53 478.85 L1581.41 479.28 L1581.84 481.85 L1580.13 481 Z" fill="#b4b4b4"/>
<circle cx="1580.3" cy="493.59" r="1.2" fill="#b4b4b4"/>
<circle cx="1572.42" cy="462.36" r="1.2" fill="#b4b4b4"/>
<g fill="none" stroke="#000" stroke-width="1.3" stroke-linejoin="round">
<path d="M1563.85 290.69 L1584.84 291.55 L1586.55 292.84 L1589.12 293.69 L1591.26 297.12 L1591.69 299.69 L1616.53 300.97 L1640.51 325.38"/>
<path d="M1563.85 334.81 L1568.57 342 L1567.71 340.14 L1572.85 346.13 L1576.27 352.13 L1578.84 358.98 L1582.27 364.12 L1583.98 370.12 L1589.12 374.4"/>
<path d="M1563.85 406.95 L1568.57 407.81 L1575.85 408.83"/>
</g>
<path d="M1705.61 270.14 L1708.61 274.85 L1709.46 280.84 L1708.87 286.84 L1706.9 288.98 L1703.9 290.01 L1698.76 291.72 L1694.48 294.29 L1691.05 296.86 L1688.91 299.69 L1687.79 302.26 L1686.6 299.69 L1687.62 296.26 L1690.19 293.69 L1692.33 291.55 L1689.34 290.69 L1688.05 288.55 L1691.05 286.41 L1694.9 285.3 L1698.33 283.41 L1700.9 280.42 L1703.04 276.99 L1704.33 273.13 Z" fill="#97b6e1" stroke="#000" stroke-width="1.6" stroke-linejoin="round"/>
<path d="M1708.61 267.82 L1709.89 273.13 L1710.75 279.13 L1710.32 284.27 L1709.46 288.55 L1707.49 290.09 L1704.75 290.69 L1700.47 292.41 L1696.19 294.98 L1692.33 297.97 L1689.76 301.4 L1687.62 304.83 L1686.34 306.97 L1684.63 305.25 L1681.63 303.97 L1677.34 303.97 L1673.06 304.83 L1669.64 306.54 L1666.21 308.25 L1662.78 311.25 L1659.79 314.25 L1657.64 317.25 L1655.93 320.24 L1655.25 323.67 L1654.65 326.67 L1652.93 325.81 L1649.94 325.21 L1645.65 325.38 L1641.37 326.24 L1637.52 327.95 L1634.52 330.52 L1631.95 333.95 L1629.81 337.37 L1628.09 340.37 L1628.95 339.28 L1627.67 342.71 L1625.52 345.71 L1621.67 348.7 L1617.39 352.13 L1613.1 355.56 L1609.68 358.13 L1605.4 360.27 L1601.11 362.84 L1597.69 365.41 L1595.12 368.4 L1592.12 371.83 L1589.55 374.83 L1586.55 378.25 L1583.98 382.11 L1581.84 386.39 L1580.13 390.67 L1578.67 394.96 L1577.56 399.24 L1576.87 403.52 L1576.53 407.81 L1576.7 412.09 L1576.7 408.57 L1577.39 416.27 L1578.84 424.84 L1580.99 433.4 L1583.98 441.11 L1587.41 448.82 L1591.69 456.1 L1595.55 462.1 L1597.26 465.1 L1596.66 468.52 L1595.8 472.81 L1595.97 475.37 L1594.95 475 L1597.69 480.14 L1600.69 486.99 L1603.68 494.7 L1606.25 501.55 L1607.79 507.55 L1607.97 513.54 L1607.28 520.4 L1606.08 527.25 L1604.54 534.1 L1602.83 540.1 L1600.26 546.09 L1597.26 550.37 L1592.98 552.09 L1588.27 551.23 L1584.84 548.66 L1583.13 544.38 L1584.41 540.52 L1581.41 538.38 L1578.42 534.1 L1573.7 531.53 L1570.71 528.96 L1568.57 525.11 L1566.85 520.4 L1565.57 516.11 L1564.97 513.12 L1566.42 510.97 L1568.57 510.29" fill="none" stroke="#000" stroke-width="2.5" stroke-linejoin="round" stroke-linecap="round"/>
<g fill="none" stroke="#000" stroke-linejoin="round" stroke-linecap="round">
<path d="M1626.38 339.28 L1625.95 343.14 L1624.24 345.28 L1619.96 348.7 L1616.53 351.7" stroke-width="3.4"/>
<path d="M1614.82 353.42 L1610.54 354.27 L1609.25 357.44 L1604.54 359.84 L1603.25 359.41" stroke-width="3.2"/>
<path d="M1599.83 361.12 L1595.97 362.41 L1596.4 365.41 L1593.83 368.4 L1590.41 372.26" stroke-width="3.6"/>
<path d="M1588.69 375.26 L1583.98 376.11 L1584.84 378.68 L1580.13 381.25 L1581.84 384.25 L1579.27 387.25 L1580.13 390.25 L1577.99 393.24 L1578.42 396.67 L1576.7 400.1 L1576.27 405.24" stroke-width="4.0"/>
<path d="M1589.98 362.84 L1591.01 367.72 L1594.69 367.72 L1595.8 363.27" stroke-width="3.0"/>
<path d="M1573.28 395.99 L1575.85 397.96 L1575.42 402.67" stroke-width="2.6"/>
<path d="M1590.84 461.67 L1593.4 467.67 L1595.55 471.09" stroke-width="3.2"/>
<path d="M1607.97 510.97 L1607.11 521.25" stroke-width="2.6"/>
<path d="M1585.7 543.52 L1585.7 547.81 L1589.12 550.37" stroke-width="3.6"/>
<path d="M1584.84 540.1 L1581.84 538.81" stroke-width="3"/>
<path d="M1602.83 540.95 L1599.4 547.81 L1594.26 551.66" stroke-width="3.2"/>
<path d="M1676.06 282.56 L1679.91 283.84 L1683.34 282.13 L1686.77 282.56 L1690.19 284.7 L1693.62 285.13 L1697.9 283.41" stroke-width="3.8"/>
<path d="M1685.05 281.27 L1686.77 284.27 L1685.91 287.7 L1684.63 291.12" stroke-width="3.2"/>
<path d="M1676.49 294.55 L1679.91 296.26 L1684.2 293.69 L1687.62 291.55" stroke-width="3.4"/>
<path d="M1679.06 298.4 L1684.2 297.29 L1688.48 295.83" stroke-width="2.6"/>
<path d="M1697.04 270.57 L1697.04 277.42 L1699.19 277.85" stroke-width="2.6"/>
<path d="M1702.61 273.13 L1701.76 277.85 L1700.47 279.99" stroke-width="2.2"/>
<path d="M1682.06 269.28 L1688.48 270.14 L1697.04 269.71 L1707.32 269.28" stroke-width="2.6"/>
<path d="M1688.48 296.26 L1686.77 302.26 L1686.34 306.54" stroke-width="3.0"/>
</g><g fill="#000" stroke="none">
<path d="M1681.63 281.53 L1685.48 279.99 L1688.48 280.67 L1690.62 283.41 L1694.05 284.44 L1691.91 286.41 L1688.05 287.01 L1685.05 287.7 L1683.34 284.7 Z"/>
<path d="M1675.63 281.27 L1679.49 282.99 L1682.48 282.13 L1683.34 284.44 L1679.91 285.55 L1676.49 284.44 L1674.78 282.56 Z"/>
<path d="M1675.63 293.86 L1679.49 295.58 L1682.91 294.38 L1685.48 292.15 L1687.79 293.01 L1685.48 296.09 L1680.34 297.97 L1676.92 296.69 L1675.2 295.23 Z"/>
<path d="M1685.74 300.12 L1692.33 296.09 L1691.05 299.69 L1688.48 303.11 L1686.6 307.22 L1685.22 305.25 Z"/>
<path d="M1695.76 270.14 L1699.19 270.14 L1699.61 272.28 L1698.07 278.27 L1696.19 277.85 Z"/>
</g><g fill="none" stroke="#000" stroke-linejoin="round" stroke-linecap="round">
<path d="M1630.66 509.69 L1634.52 513.54 L1637.52 515.69 L1640.51 513.97 L1639.66 509.26 L1640.94 507.12 L1643.51 510.97 L1649.08 510.12 L1655.07 509.69 L1657.22 512.69" stroke-width="3.6"/>
<path d="M1643.94 496.41 L1650.79 500.27 L1656.79 502.84 L1662.78 504.98 L1667.92 508.83 L1672.21 511.83 L1676.06 514.4 L1676.92 516.97 L1675.2 520.4 L1672.21 522.97 L1670.49 527.25 L1668.35 528.28 L1671.35 531.96" stroke-width="3.6"/>
<path d="M1655.07 509.26 L1655.93 506.01 L1661.07 506.86 L1666.21 510.29 L1669.64 514.4 L1670.92 518.68 L1671.35 521.68" stroke-width="3.6"/>
<path d="M1655.07 531.53 L1657.64 534.96 L1659.79 538.38 L1658.5 541.81 L1655.93 542.67" stroke-width="3.0"/>
<path d="M1649.51 546.09 L1650.79 549.52 L1652.93 552.52" stroke-width="3.6"/>
<path d="M1625.27 534.1 L1624.67 537.96" stroke-width="2.6"/>
<path d="M1625.95 540.95 L1628.09 546.09" stroke-width="1.2"/>
<path d="M1662.78 551.66 L1667.92 550.37 L1673.06 548.66" stroke-width="2.6"/>
<path d="M1673.92 548.23 L1677.34 544.38 L1679.49 540.52" stroke-width="1.6"/>
<path d="M1679.49 540.1 L1682.48 539.24 L1685.05 541.81 L1689.34 543.95 L1693.62 547.81 L1696.19 550.8 L1695.76 552.94" stroke-width="3.0"/>
<path d="M1648.91 503.09 L1649.25 503.44" stroke-width="3.0"/>
<path d="M1662.78 520.4 L1663.13 521.25" stroke-width="2.8"/>
<path d="M1663.81 525.54 L1663.9 525.88" stroke-width="2.2"/>
<path d="M1657.64 516.8 L1658.5 517.66" stroke-width="1.2"/>
<path d="M1946.7 367.8 L1949 367.3 L1951.2 366.5" stroke-width="3.3"/>
</g>
</g>
<circle cx="1725.4" cy="275.3" r="4.3" fill="#ff0000" stroke="#000" stroke-width="1.1"/>
<g stroke="#000">
<line x1="1564.3" y1="268.1" x2="1564.3" y2="265.4" stroke-width="1.9"/>
<line x1="1564.3" y1="553.7" x2="1564.3" y2="556.4" stroke-width="1.9"/>
<line x1="1587" y1="268.1" x2="1587" y2="259.5" stroke-width="3.0"/>
<line x1="1587" y1="553.7" x2="1587" y2="562.3" stroke-width="3.0"/>
<line x1="1609.29" y1="268.1" x2="1609.29" y2="265.4" stroke-width="1.9"/>
<line x1="1609.29" y1="553.7" x2="1609.29" y2="556.4" stroke-width="1.9"/>
<line x1="1631.58" y1="268.1" x2="1631.58" y2="265.4" stroke-width="1.9"/>
<line x1="1631.58" y1="553.7" x2="1631.58" y2="556.4" stroke-width="1.9"/>
<line x1="1653.87" y1="268.1" x2="1653.87" y2="259.5" stroke-width="3.0"/>
<line x1="1653.87" y1="553.7" x2="1653.87" y2="562.3" stroke-width="3.0"/>
<line x1="1676.16" y1="268.1" x2="1676.16" y2="265.4" stroke-width="1.9"/>
<line x1="1676.16" y1="553.7" x2="1676.16" y2="556.4" stroke-width="1.9"/>
<line x1="1698.45" y1="268.1" x2="1698.45" y2="265.4" stroke-width="1.9"/>
<line x1="1698.45" y1="553.7" x2="1698.45" y2="556.4" stroke-width="1.9"/>
<line x1="1720.74" y1="268.1" x2="1720.74" y2="259.5" stroke-width="3.0"/>
<line x1="1720.74" y1="553.7" x2="1720.74" y2="562.3" stroke-width="3.0"/>
<line x1="1743.03" y1="268.1" x2="1743.03" y2="265.4" stroke-width="1.9"/>
<line x1="1743.03" y1="553.7" x2="1743.03" y2="556.4" stroke-width="1.9"/>
<line x1="1765.32" y1="268.1" x2="1765.32" y2="265.4" stroke-width="1.9"/>
<line x1="1765.32" y1="553.7" x2="1765.32" y2="556.4" stroke-width="1.9"/>
<line x1="1787.61" y1="268.1" x2="1787.61" y2="259.5" stroke-width="3.0"/>
<line x1="1787.61" y1="553.7" x2="1787.61" y2="562.3" stroke-width="3.0"/>
<line x1="1809.9" y1="268.1" x2="1809.9" y2="265.4" stroke-width="1.9"/>
<line x1="1809.9" y1="553.7" x2="1809.9" y2="556.4" stroke-width="1.9"/>
<line x1="1832.19" y1="268.1" x2="1832.19" y2="265.4" stroke-width="1.9"/>
<line x1="1832.19" y1="553.7" x2="1832.19" y2="556.4" stroke-width="1.9"/>
<line x1="1854.48" y1="268.1" x2="1854.48" y2="259.5" stroke-width="3.0"/>
<line x1="1854.48" y1="553.7" x2="1854.48" y2="562.3" stroke-width="3.0"/>
<line x1="1876.77" y1="268.1" x2="1876.77" y2="265.4" stroke-width="1.9"/>
<line x1="1876.77" y1="553.7" x2="1876.77" y2="556.4" stroke-width="1.9"/>
<line x1="1899.06" y1="268.1" x2="1899.06" y2="265.4" stroke-width="1.9"/>
<line x1="1899.06" y1="553.7" x2="1899.06" y2="556.4" stroke-width="1.9"/>
<line x1="1921.35" y1="268.1" x2="1921.35" y2="259.5" stroke-width="3.0"/>
<line x1="1921.35" y1="553.7" x2="1921.35" y2="562.3" stroke-width="3.0"/>
<line x1="1943.64" y1="268.1" x2="1943.64" y2="265.4" stroke-width="1.9"/>
<line x1="1943.64" y1="553.7" x2="1943.64" y2="556.4" stroke-width="1.9"/>
<line x1="1966" y1="268.1" x2="1966" y2="265.4" stroke-width="1.9"/>
<line x1="1966" y1="553.7" x2="1966" y2="556.4" stroke-width="1.9"/>
<line x1="1563.9" y1="553.5" x2="1561.2" y2="553.5" stroke-width="1.9"/>
<line x1="1966.9" y1="553.5" x2="1969.6" y2="553.5" stroke-width="1.9"/>
<line x1="1563.9" y1="528.81" x2="1561.2" y2="528.81" stroke-width="1.9"/>
<line x1="1966.9" y1="528.81" x2="1969.6" y2="528.81" stroke-width="1.9"/>
<line x1="1563.9" y1="503.9" x2="1555.3" y2="503.9" stroke-width="3.0"/>
<line x1="1966.9" y1="503.9" x2="1975.5" y2="503.9" stroke-width="3.0"/>
<line x1="1563.9" y1="478.77" x2="1561.2" y2="478.77" stroke-width="1.9"/>
<line x1="1966.9" y1="478.77" x2="1969.6" y2="478.77" stroke-width="1.9"/>
<line x1="1563.9" y1="453.41" x2="1561.2" y2="453.41" stroke-width="1.9"/>
<line x1="1966.9" y1="453.41" x2="1969.6" y2="453.41" stroke-width="1.9"/>
<line x1="1563.9" y1="427.8" x2="1555.3" y2="427.8" stroke-width="3.0"/>
<line x1="1966.9" y1="427.8" x2="1975.5" y2="427.8" stroke-width="3.0"/>
<line x1="1563.9" y1="401.93" x2="1561.2" y2="401.93" stroke-width="1.9"/>
<line x1="1966.9" y1="401.93" x2="1969.6" y2="401.93" stroke-width="1.9"/>
<line x1="1563.9" y1="375.79" x2="1561.2" y2="375.79" stroke-width="1.9"/>
<line x1="1966.9" y1="375.79" x2="1969.6" y2="375.79" stroke-width="1.9"/>
<line x1="1563.9" y1="349.36" x2="1555.3" y2="349.36" stroke-width="3.0"/>
<line x1="1966.9" y1="349.36" x2="1975.5" y2="349.36" stroke-width="3.0"/>
<line x1="1563.9" y1="322.63" x2="1561.2" y2="322.63" stroke-width="1.9"/>
<line x1="1966.9" y1="322.63" x2="1969.6" y2="322.63" stroke-width="1.9"/>
<line x1="1563.9" y1="295.58" x2="1561.2" y2="295.58" stroke-width="1.9"/>
<line x1="1966.9" y1="295.58" x2="1969.6" y2="295.58" stroke-width="1.9"/>
<line x1="1563.9" y1="268.2" x2="1555.3" y2="268.2" stroke-width="3.0"/>
<line x1="1966.9" y1="268.2" x2="1975.5" y2="268.2" stroke-width="3.0"/>
</g>
<text x="1549.0" y="277.7" font-size="22.5" text-anchor="end">36°N</text>
<text x="1549.0" y="358.86" font-size="22.5" text-anchor="end">33°N</text>
<text x="1549.0" y="437.3" font-size="22.5" text-anchor="end">30°N</text>
<text x="1549.0" y="513.4" font-size="22.5" text-anchor="end">27°N</text>
<text transform="translate(1586.1,598.6) rotate(-45)" font-size="22.5" text-anchor="middle" x="0" y="8">81°W</text>
<text transform="translate(1652.97,598.6) rotate(-45)" font-size="22.5" text-anchor="middle" x="0" y="8">78°W</text>
<text transform="translate(1719.84,598.6) rotate(-45)" font-size="22.5" text-anchor="middle" x="0" y="8">75°W</text>
<text transform="translate(1786.71,598.6) rotate(-45)" font-size="22.5" text-anchor="middle" x="0" y="8">72°W</text>
<text transform="translate(1853.58,598.6) rotate(-45)" font-size="22.5" text-anchor="middle" x="0" y="8">69°W</text>
<text transform="translate(1920.45,598.6) rotate(-45)" font-size="22.5" text-anchor="middle" x="0" y="8">66°W</text>
<rect x="1635.1" y="643.1" width="261.1" height="143.0" rx="3.8" fill="#fff" stroke="#d5d5d5" stroke-width="1.5"/>
<line x1="1643.3" y1="662.4" x2="1690.9" y2="662.4" stroke="#0000ff" stroke-width="2.6"/>
<circle cx="1666.5" cy="662.4" r="6.0" fill="#0000ff"/>
<text x="1707" y="671.2" font-size="22.5" text-anchor="start" >cp_1145</text>
<line x1="1643.3" y1="696.4" x2="1690.9" y2="696.4" stroke="#ff0000" stroke-width="2.6"/>
<circle cx="1666.5" cy="696.4" r="6.0" fill="#ff0000"/>
<text x="1707" y="705.1" font-size="22.5" text-anchor="start" >RTOFS</text>
<line x1="1643.3" y1="730.3" x2="1690.9" y2="730.3" stroke="#ffa500" stroke-width="2.6"/>
<circle cx="1666.5" cy="730.3" r="6.0" fill="#ffa500"/>
<text x="1707" y="740" font-size="22.5" text-anchor="start" >RTOFS (Parallel)</text>
<line x1="1643.3" y1="765.3" x2="1690.9" y2="765.3" stroke="#ff00ff" stroke-width="2.6"/>
<circle cx="1666.5" cy="765.3" r="6.0" fill="#ff00ff"/>
<text x="1707" y="772.8" font-size="22.5" text-anchor="start" >CMEMS</text>
</svg>
</body></html>
